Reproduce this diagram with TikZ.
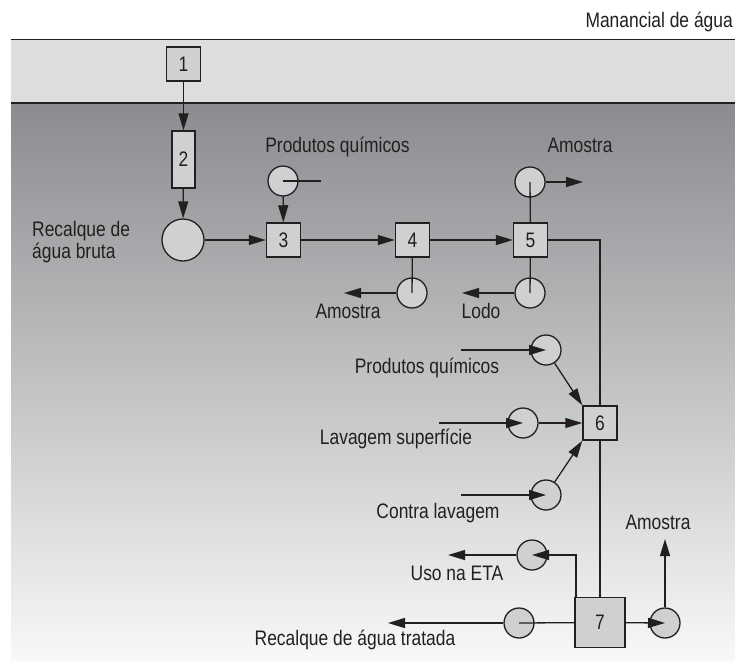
\documentclass[tikz,border=0pt]{standalone}
\usepackage{fontspec}
\setmainfont[FakeStretch=0.83]{Liberation Sans}
\usetikzlibrary{positioning,calc,arrows.meta}
\definecolor{Trait}{HTML}{231F20}
\definecolor{Faixa}{HTML}{DCDDDF}
\definecolor{Caixa}{HTML}{CFD0D2}
\definecolor{Topo}{HTML}{8B8C8F}
\definecolor{Meio}{HTML}{BBBCBF}
\definecolor{Base}{HTML}{F7F8F8}
\tikzset{
  caixa/.style={draw=Trait, fill=Caixa, line width=1.5pt, minimum size=34pt, inner sep=0pt, text=Trait},
  bomba/.style={circle, draw=Trait, fill=Caixa, line width=1.3pt, minimum size=30pt, inner sep=0pt},
  rotulo/.style={text=Trait, inner sep=0pt, anchor=base},
  fluxo/.style={draw=Trait, line width=1.3pt},
  seta/.style={fluxo, -{Triangle[length=17pt,width=10pt]}},
}
\begin{document}
\begin{tikzpicture}[x=1pt,y=-1pt,font=\fontsize{21}{25}\selectfont]
  \useasboundingbox (0,0) rectangle (735,661);
  \fill[Faixa] (11,39) rectangle (735,103);
  \shade[top color=Topo, middle color=Meio, bottom color=Base] (11,103) rectangle (735,660);
  \draw[Trait, line width=.8pt] (11,39) -- (735,39);
  \draw[Trait, line width=1.3pt] (11,103) -- (735,103);

  % caixas
  \foreach \nom/\x/\y in {1/183.5/64, 3/283.5/240, 4/412.5/240, 5/530.5/240, 6/600/423}{
    \node[caixa] (c\nom) at (\x,\y) {\nom};
  }
  \node[caixa, minimum width=23pt, minimum height=57pt] (c2) at (183.5,159.5) {2};
  \node[caixa, minimum size=50pt] (c7) at (600,622.5) {7};

  % bombas
  \node[bomba, minimum size=42pt] (bruta) at (183,240) {};
  \foreach \nom/\x/\y in {quim/283/181, amoA/530/182, amoB/412/293, lodo/530/293, quimB/546/350, lav/523/423, contra/546/495, uso/532/555, trat/519/623, amoC/665/623}{
    \node[bomba] (\nom) at (\x,\y) {};
  }

  % pontas livres
  \coordinate (quimFim) at (321,181);
  \coordinate (amoAFim) at (583,182);
  \coordinate (amoBFim) at (344,293);
  \coordinate (lodoFim) at (462,293);
  \coordinate (quimBIni) at (461,350);
  \coordinate (lavIni) at (439,423);
  \coordinate (contraIni) at (461,495);
  \coordinate (usoFim) at (448,555);
  \coordinate (tratFim) at (388,623);
  \coordinate (amoCFim) at (665,539);
  \coordinate (desvio) at (600,240);
  \coordinate (saidaUso) at (576,598);

  % ligacoes
  \draw[seta] (c1) -- (c2);
  \draw[seta] (c2) -- (bruta);
  \draw[seta] (bruta) -- (c3);
  \draw[fluxo] (quim.center) -- (quimFim);
  \draw[seta] (quim) -- (c3);
  \draw[seta] (c3) -- (c4);
  \draw[seta] (c4) -- (c5);
  \draw[fluxo] (c4) -- (amoB.center);
  \draw[seta] (amoB) -- (amoBFim);
  \draw[fluxo] (c5) -- (amoA.center);
  \draw[seta] (amoA) -- (amoAFim);
  \draw[fluxo] (c5) -- (lodo.center);
  \draw[seta] (lodo) -- (lodoFim);
  \draw[fluxo] (c5) -- (desvio) -- (c6);
  \draw[fluxo] (c6) -- (c7);
  \draw[seta] (quimBIni) -- (quimB.center);
  \draw[seta] (quimB) -- (c6.north west);
  \draw[seta] (lavIni) -- (lav.center);
  \draw[seta] (lav) -- (c6);
  \draw[seta] (contraIni) -- (contra.center);
  \draw[seta] (contra) -- (c6.south west);
  \draw[seta] (saidaUso) |- (uso.center);
  \draw[seta] (uso) -- (usoFim);
  \draw[fluxo] (c7) -- (trat.center);
  \draw[seta] (trat) -- (tratFim);
  \draw[seta] (c7) -- (amoC.center);
  \draw[seta] (amoC) -- (amoCFim);

  % rotulos
  \node[rotulo, anchor=base east] (manancial) at (733,28) {Manancial de água};
  \node[rotulo, anchor=base west] (recalque) at (32,236) {Recalque de};
  \node[rotulo, anchor=base west] (bruta2) at (32,258) {água bruta};
  \node[rotulo] (lQuim) at (337.5,152) {Produtos químicos};
  \node[rotulo] (lAmoA) at (580,152) {Amostra};
  \node[rotulo] (lAmoB) at (348,318) {Amostra};
  \node[rotulo] (lLodo) at (481,318) {Lodo};
  \node[rotulo] (lQuimB) at (427,373) {Produtos químicos};
  \node[rotulo] (lLav) at (396,444) {Lavagem superfície};
  \node[rotulo] (lContra) at (438,518) {Contra lavagem};
  \node[rotulo] (lAmoC) at (658,529) {Amostra};
  \node[rotulo] (lUso) at (457,580) {Uso na ETA};
  \node[rotulo] (lTrat) at (355,645) {Recalque de água tratada};
\end{tikzpicture}
\end{document}
